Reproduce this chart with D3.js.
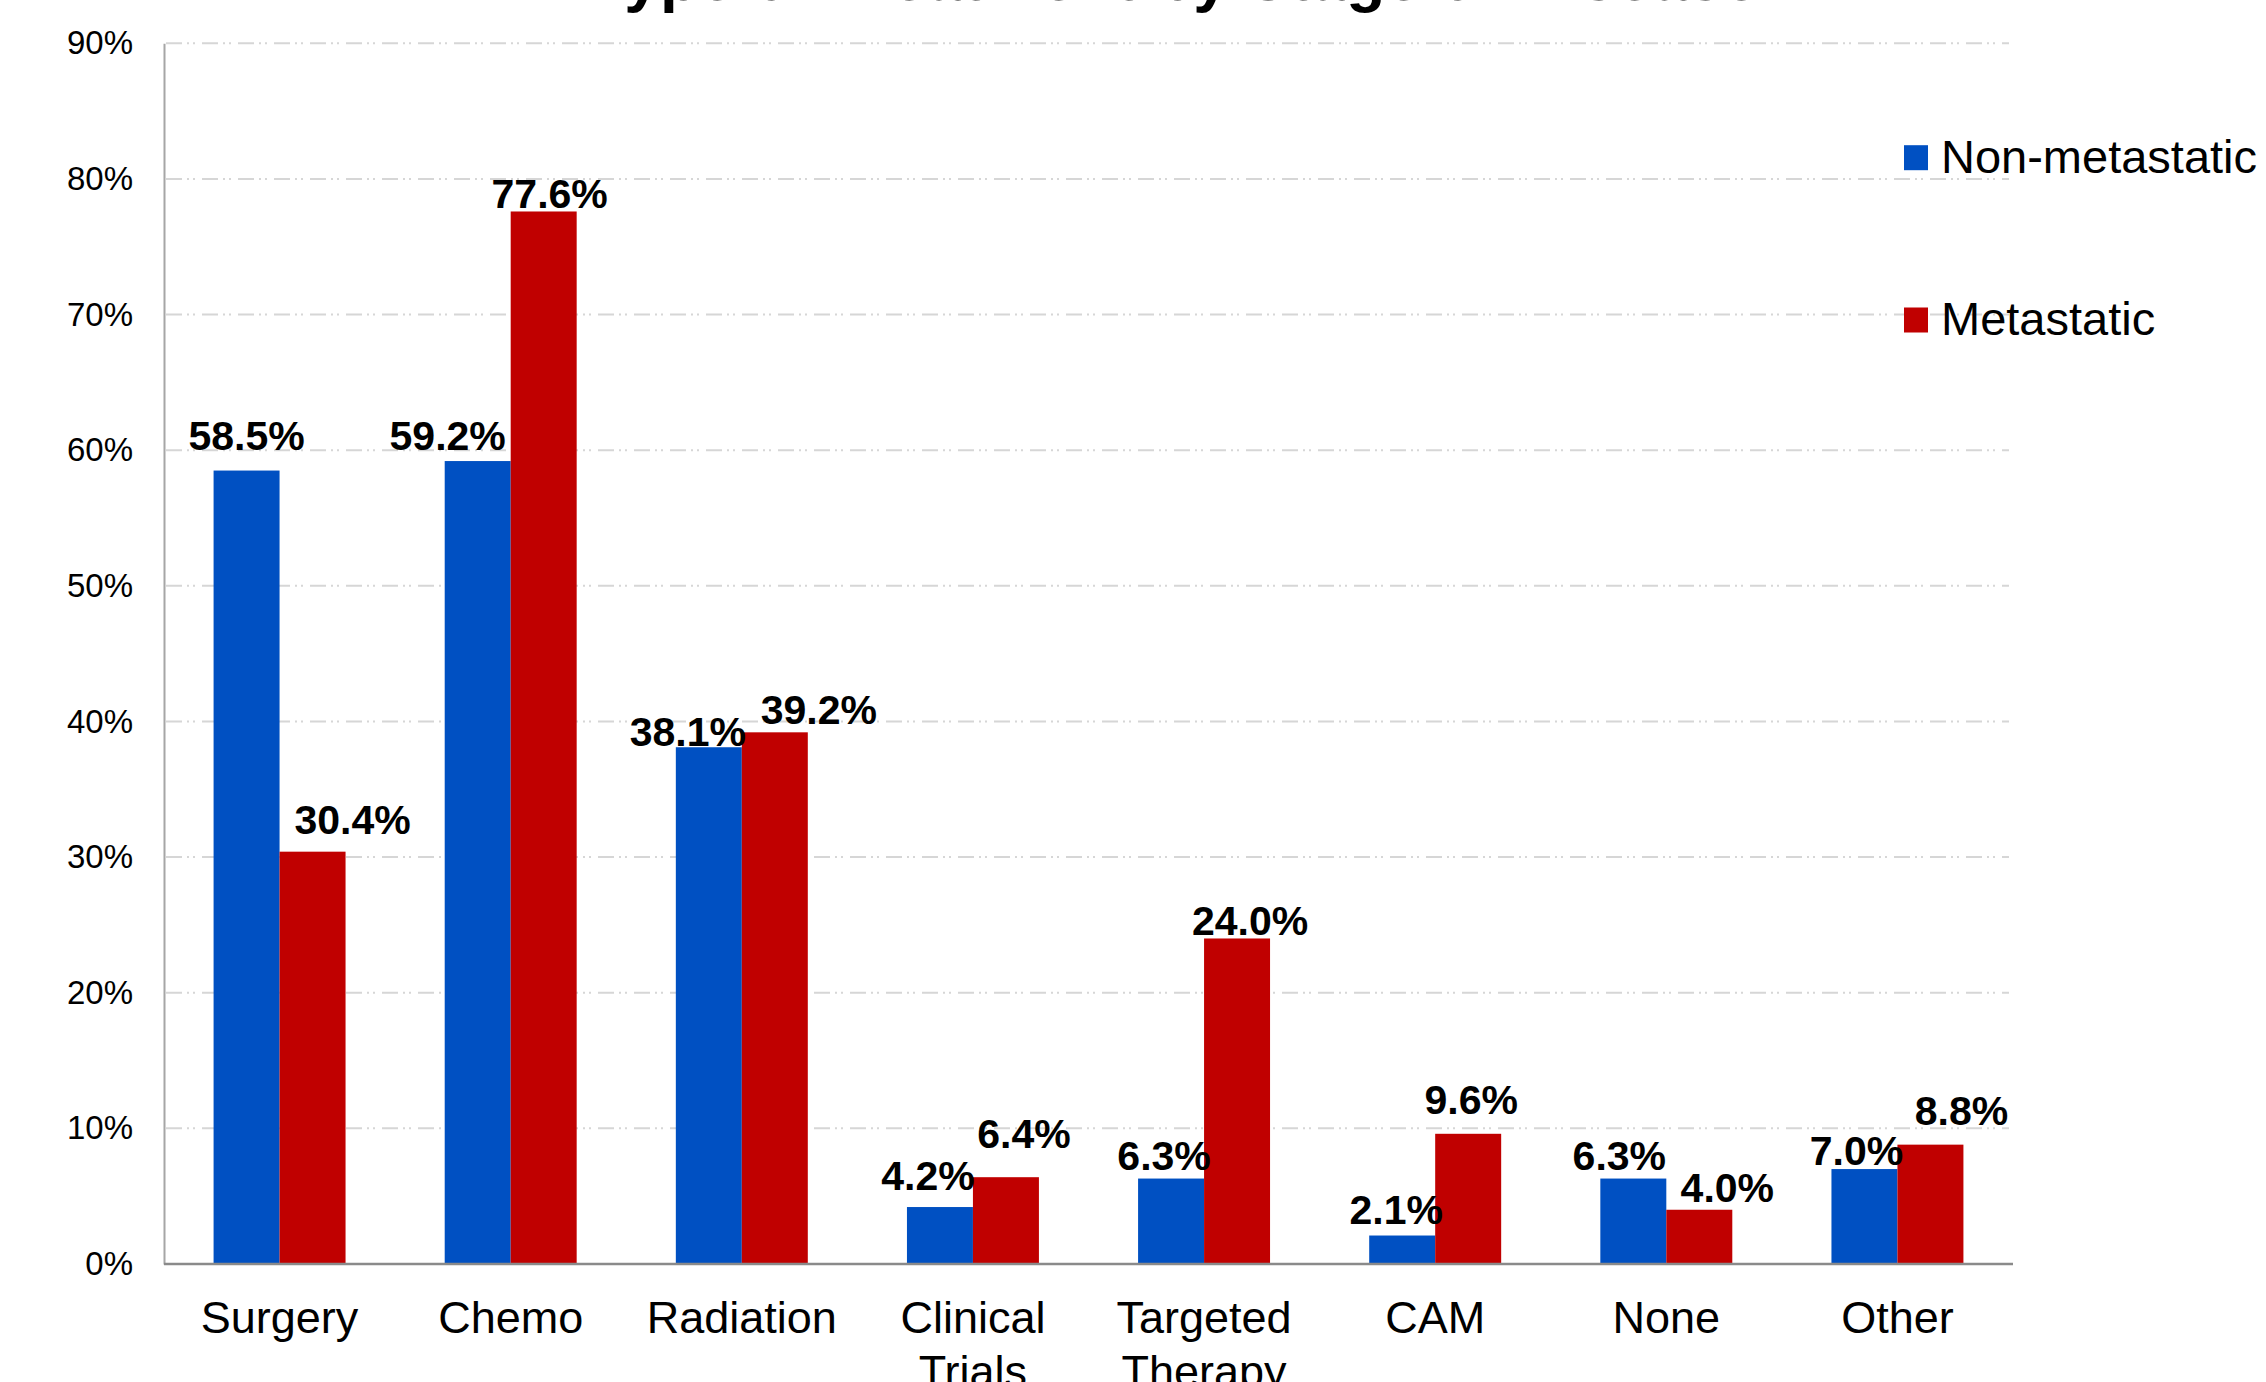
<!DOCTYPE html>
<html>
<head>
<meta charset="utf-8">
<script src="https://cdn.jsdelivr.net/npm/d3@7"></script>
<style>
  html, body { margin: 0; padding: 0; background: #ffffff; }
  svg { display: block; font-family: "Liberation Sans", Arial, sans-serif; }
</style>
</head>
<body>
<svg id="chart" width="2266" height="1382"></svg>
<script>
// ---- data ----
const title = "Type of Treatment by Stage of Disease";
const categories = ["Surgery", "Chemo", "Radiation", "Clinical Trials", "Targeted Therapy", "CAM", "None", "Other"];
const seriesNames = ["Non-metastatic", "Metastatic"];
const nonMetastatic = [58.5, 59.2, 38.1, 4.2, 6.3, 2.1, 6.3, 7.0];
const metastatic = [30.4, 77.6, 39.2, 6.4, 24.0, 9.6, 4.0, 8.8];
const yTicks = [0, 10, 20, 30, 40, 50, 60, 70, 80, 90];

// ---- layout ----
const W = 2266, H = 1382;
const plot = { left: 164, right: 2013, top: 43.3, bottom: 1264 };
const colors = ["#0050c2", "#c00000"];

// hand-placed value labels: [dx from bar centre, baseline height above bar top]
const labelNudge = [
  [[0, 21], [-30, 11], [-21, 1], [-12, 17], [-7, 9], [-6, 12], [-14, 9], [-8, 4]],
  [[40, 18], [6, 3], [44, 8], [18, 29], [13, 3], [3, 20], [28, 8], [31, 20]]
];

const svg = d3.select("#chart");
svg.append("rect").attr("width", W).attr("height", H).attr("fill", "#fff");

const x = d3.scaleBand()
  .domain(categories)
  .range([plot.left, plot.right])
  .paddingInner(0.429)
  .paddingOuter(0.2145);

const xs = d3.scaleBand()
  .domain(seriesNames)
  .range([0, x.bandwidth()]);

const y = d3.scaleLinear()
  .domain([0, 90])
  .range([plot.bottom, plot.top]);

// gridlines
svg.append("g")
  .selectAll("line")
  .data(yTicks.filter(t => t > 0))
  .join("line")
  .attr("x1", plot.left + 2)
  .attr("x2", plot.right - 4)
  .attr("y1", d => y(d))
  .attr("y2", d => y(d))
  .attr("stroke", "#d6d6d6")
  .attr("stroke-width", 2)
  .attr("stroke-dasharray", "16,5,2,4,2,7");

// y axis
const yAxis = svg.append("g")
  .attr("transform", `translate(${plot.left},0)`)
  .call(d3.axisLeft(y).tickValues(yTicks).tickSize(0).tickPadding(31).tickFormat(d => d + "%"));
yAxis.select(".domain").attr("stroke", "#a6a6a6").attr("stroke-width", 2);
yAxis.selectAll("text")
  .attr("font-size", 33)
  .attr("fill", "#000")
  .attr("font-family", "Liberation Sans, Arial, sans-serif");

// bars
const series = [nonMetastatic, metastatic];
series.forEach((vals, si) => {
  svg.append("g")
    .selectAll("rect")
    .data(vals)
    .join("rect")
    .attr("x", (d, i) => x(categories[i]) + xs(seriesNames[si]))
    .attr("width", xs.bandwidth())
    .attr("y", d => y(d))
    .attr("height", d => y(0) - y(d))
    .attr("fill", colors[si]);
});

// x axis line
svg.append("line")
  .attr("x1", plot.left).attr("x2", plot.right)
  .attr("y1", y(0)).attr("y2", y(0))
  .attr("stroke", "#8a8a8a").attr("stroke-width", 2.5);

// value labels
series.forEach((vals, si) => {
  svg.append("g")
    .selectAll("text")
    .data(vals)
    .join("text")
    .attr("x", (d, i) => x(categories[i]) + xs(seriesNames[si]) + xs.bandwidth() / 2 + labelNudge[si][i][0])
    .attr("y", (d, i) => y(d) - labelNudge[si][i][1])
    .attr("text-anchor", "middle")
    .attr("font-size", 41)
    .attr("font-weight", "bold")
    .attr("fill", "#000")
    .text(d => d.toFixed(1) + "%");
});

// category labels
const cat = svg.append("g")
  .selectAll("text")
  .data(categories)
  .join("text")
  .attr("x", d => x(d) + x.bandwidth() / 2)
  .attr("y", 1333)
  .attr("text-anchor", "middle")
  .attr("font-size", 45)
  .attr("fill", "#000");
cat.each(function(d) {
  const t = d3.select(this);
  d.split(" ").forEach((w, k) => {
    t.append("tspan")
      .attr("x", x(d) + x.bandwidth() / 2)
      .attr("dy", k === 0 ? 0 : 54)
      .text(w);
  });
});

// legend
const legend = svg.append("g");
seriesNames.forEach((name, si) => {
  const base = 172.7 + si * 162.3;
  legend.append("rect")
    .attr("x", 1904).attr("y", base - 27.5)
    .attr("width", 24).attr("height", 25)
    .attr("fill", colors[si]);
  legend.append("text")
    .attr("x", 1941).attr("y", base)
    .attr("font-size", 47)
    .attr("fill", "#000")
    .text(name);
});

// title
svg.append("text")
  .attr("x", 590).attr("y", 0)
  .attr("font-size", 64)
  .attr("font-weight", "bold")
  .attr("fill", "#000")
  .text(title);
</script>
</body>
</html>
